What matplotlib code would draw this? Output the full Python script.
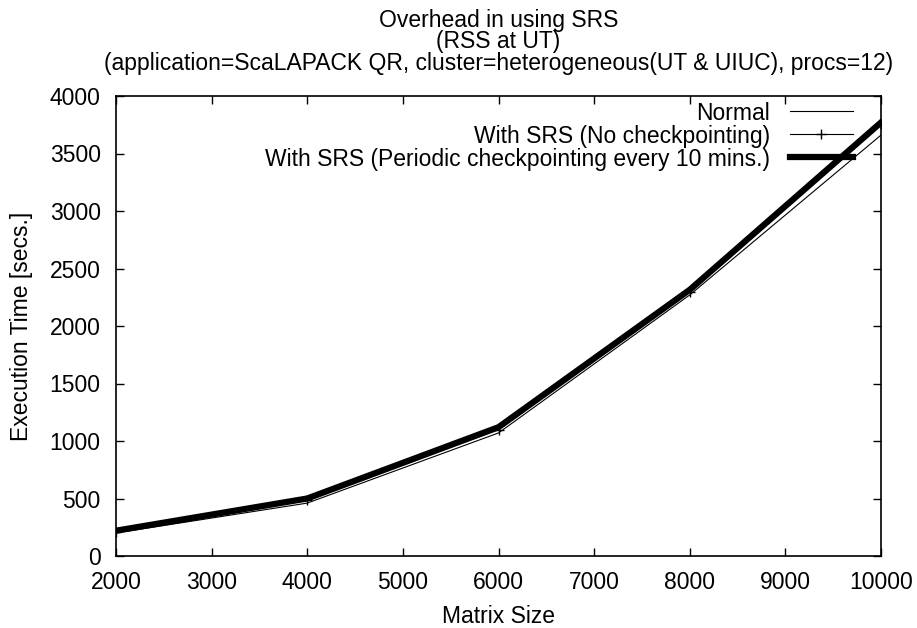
import matplotlib
matplotlib.use("Agg")
import matplotlib.pyplot as plt

plt.rcParams['font.family'] = ['Liberation Sans', 'DejaVu Sans']

matrix_size = [2000, 4000, 6000, 8000, 10000]
normal = [200, 460, 1070, 2270, 3660]
srs_no_ckpt = [210, 485, 1100, 2300, 3755]
srs_periodic = [220, 500, 1120, 2315, 3770]

FS = 16.5

fig = plt.figure(figsize=(9.17, 6.28), dpi=100)
ax = fig.add_axes([116/917, 1-556/628, (881-116)/917, (556-96)/628])

ax.plot(matrix_size, normal, color='black', lw=0.8, label='Normal')
ax.plot(matrix_size, srs_no_ckpt, color='black', lw=0.8, marker='+', ms=7, mew=1,
        label='With SRS (No checkpointing)')
ax.plot(matrix_size, srs_periodic, color='black', lw=4.5,
        label='With SRS (Periodic checkpointing every 10 mins.)')

ax.set_xlim(2000, 10000)
ax.set_ylim(0, 4000)
ax.set_xticks(range(2000, 10001, 1000))
ax.set_yticks(range(0, 4001, 500))
ax.tick_params(direction='in', top=True, right=True, labelsize=FS, length=6, width=1, pad=11)
for s in ax.spines.values():
    s.set_linewidth(1.2)

ax.set_xlabel('Matrix Size', fontsize=FS, labelpad=8)
ax.set_ylabel('Execution Time [secs.]', fontsize=FS, labelpad=12)
ax.set_title('Overhead in using SRS\n(RSS at UT)\n(application=ScaLAPACK QR, cluster=heterogeneous(UT & UIUC), procs=12)',
             fontsize=FS, linespacing=0.9, pad=19)

leg = ax.legend(loc='upper right', bbox_to_anchor=(0.969, 0.998), frameon=False,
                markerfirst=False, fontsize=FS, handlelength=2.75, borderaxespad=0.0,
                borderpad=0.2, labelspacing=0.0, handletextpad=0.85)

fig.savefig('out.png', dpi=100)
